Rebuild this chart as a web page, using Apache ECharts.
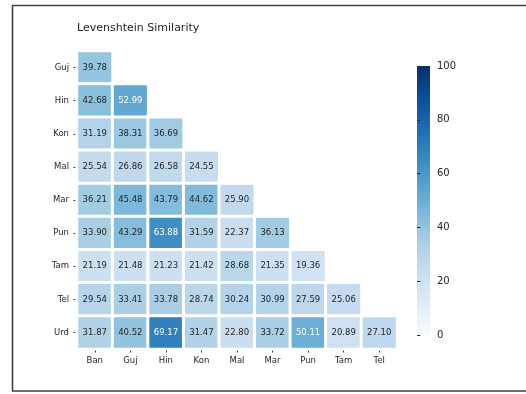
<!DOCTYPE html>
<html>
<head>
<meta charset="utf-8">
<script src="https://cdn.jsdelivr.net/npm/echarts@6/dist/echarts.min.js"></script>
<style>
  html, body { margin: 0; padding: 0; background: #ffffff; }
  #chart { width: 526px; height: 394px; }
</style>
</head>
<body>
<div id="chart"></div>
<script>
// Language codes along each axis
const colLangs = ['Ban', 'Guj', 'Hin', 'Kon', 'Mal', 'Mar', 'Pun', 'Tam', 'Tel'];
const rowLangs = ['Guj', 'Hin', 'Kon', 'Mal', 'Mar', 'Pun', 'Tam', 'Tel', 'Urd'];

// Lower-triangle similarity scores, one list per row (left to right)
const simGuj = [39.78];
const simHin = [42.68, 52.99];
const simKon = [31.19, 38.31, 36.69];
const simMal = [25.54, 26.86, 26.58, 24.55];
const simMar = [36.21, 45.48, 43.79, 44.62, 25.90];
const simPun = [33.90, 43.29, 63.88, 31.59, 22.37, 36.13];
const simTam = [21.19, 21.48, 21.23, 21.42, 28.68, 21.35, 19.36];
const simTel = [29.54, 33.41, 33.78, 28.74, 30.24, 30.99, 27.59, 25.06];
const simUrd = [31.87, 40.52, 69.17, 31.47, 22.80, 33.72, 50.11, 20.89, 27.10];

// Colour bar scale
const scaleMin = 0;
const scaleMax = 100;
const scaleStep = 20;

const rows = [simGuj, simHin, simKon, simMal, simMar, simPun, simTam, simTel, simUrd];

// Blues colour map
const blues = ['#f7fbff', '#deebf7', '#c6dbef', '#9ecae1', '#6baed6',
               '#4292c6', '#2171b5', '#08519c', '#08306b'];

const FONT = 'DejaVu Sans';
const INK = '#262626';
const lightTextFrom = 48;

const cells = [];
rows.forEach((vals, r) => {
  vals.forEach((v, c) => {
    cells.push({
      value: [c, r, v],
      label: { color: v >= lightTextFrom ? '#ffffff' : INK }
    });
  });
});

// Colour bar geometry (same box as the second grid)
const bar = { left: 417, top: 66, width: 13, height: 269 };

const chart = echarts.init(document.getElementById('chart'), null, { renderer: 'canvas' });

chart.setOption({
  backgroundColor: '#ffffff',
  animation: false,
  textStyle: { fontFamily: FONT },
  title: {
    text: 'Levenshtein Similarity',
    left: 77,
    top: 23,
    padding: 0,
    textStyle: { fontFamily: FONT, fontSize: 11, fontWeight: 'normal', color: INK }
  },
  graphic: [
    {
      type: 'rect',
      silent: true,
      z: -1,
      shape: { x: 12.5, y: 5.5, width: 600, height: 385.5 },
      style: { fill: 'none', stroke: '#404040', lineWidth: 1.6 }
    },
    {
      type: 'rect',
      silent: true,
      shape: { x: bar.left, y: bar.top, width: bar.width, height: bar.height },
      style: {
        fill: new echarts.graphic.LinearGradient(0, 1, 0, 0,
          blues.map((c, i) => ({ offset: i / (blues.length - 1), color: c })))
      }
    }
  ],
  grid: [
    { left: 77, top: 51, width: 320, height: 298 },
    { left: bar.left, top: bar.top, width: bar.width, height: bar.height }
  ],
  xAxis: [
    {
      type: 'category',
      gridIndex: 0,
      data: colLangs,
      axisLine: { show: false },
      axisTick: { show: true, alignWithLabel: true, length: 3.5, lineStyle: { color: '#333', width: 1 } },
      axisLabel: { fontFamily: FONT, fontSize: 8.5, color: INK, margin: 7 },
      splitLine: { show: false }
    },
    { type: 'value', gridIndex: 1, show: false, min: 0, max: 1 }
  ],
  yAxis: [
    {
      type: 'category',
      gridIndex: 0,
      data: rowLangs,
      inverse: true,
      axisLine: { show: false },
      axisTick: { show: true, alignWithLabel: true, length: 3.5, lineStyle: { color: '#333', width: 1 } },
      axisLabel: { fontFamily: FONT, fontSize: 8.5, color: INK, margin: 8 },
      splitLine: { show: false }
    },
    {
      type: 'value',
      gridIndex: 1,
      position: 'right',
      min: scaleMin,
      max: scaleMax,
      interval: scaleStep,
      axisLine: { show: false },
      axisTick: { show: true, length: 3.5, lineStyle: { color: '#333', width: 1 } },
      axisLabel: { fontFamily: FONT, fontSize: 10, color: INK, margin: 7 },
      splitLine: { show: false }
    }
  ],
  visualMap: {
    type: 'continuous',
    show: false,
    min: scaleMin,
    max: scaleMax,
    seriesIndex: 0,
    inRange: { color: blues }
  },
  series: [{
    type: 'heatmap',
    xAxisIndex: 0,
    yAxisIndex: 0,
    data: cells,
    label: {
      show: true,
      fontFamily: FONT,
      fontSize: 8.5,
      formatter: p => p.value[2].toFixed(2)
    },
    itemStyle: { borderColor: '#ffffff', borderWidth: 3 },
    emphasis: { disabled: true }
  }]
});
</script>
</body>
</html>
